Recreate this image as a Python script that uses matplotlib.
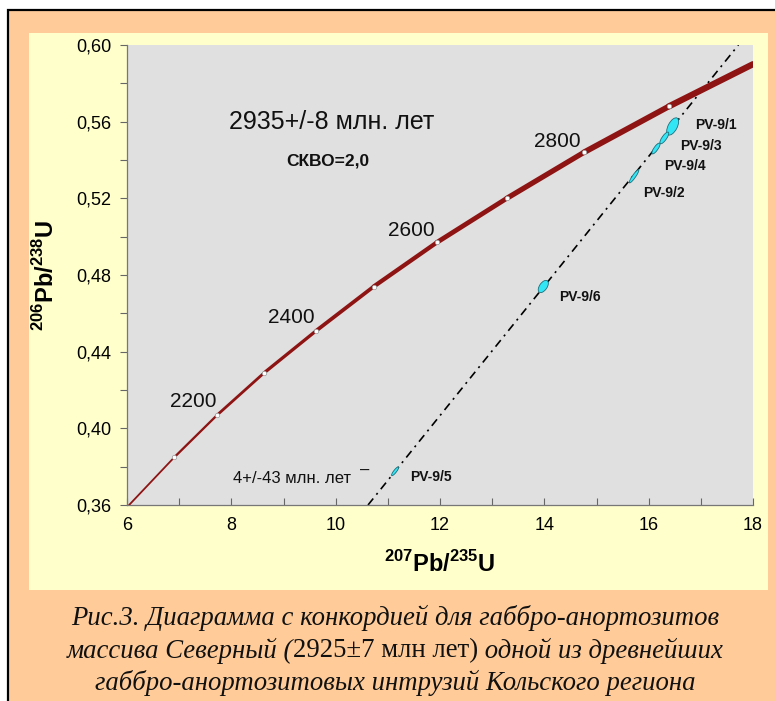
import numpy as np
import matplotlib
matplotlib.use('Agg')
import matplotlib.pyplot as plt
import matplotlib.transforms as mtransforms
from matplotlib.collections import LineCollection
from matplotlib.patches import Rectangle, Ellipse
from matplotlib.ticker import MultipleLocator, FuncFormatter

plt.rcParams['font.family'] = ['Liberation Sans', 'DejaVu Sans']
plt.rcParams['mathtext.fontset'] = 'custom'
plt.rcParams['mathtext.rm'] = 'Liberation Sans'
plt.rcParams['mathtext.bf'] = 'Liberation Sans:bold'

# concordia, points (ends + 100 Ma marks 2100..2900)
conc_x = [6.04, 6.91, 7.73, 8.63, 9.63, 10.73, 11.94, 13.28, 14.76, 16.39, 18.0]
conc_y = [0.360, 0.385, 0.407, 0.429, 0.451, 0.474, 0.497, 0.520, 0.544, 0.568, 0.590]
mark_ages = [2100, 2200, 2300, 2400, 2500, 2600, 2700, 2800, 2900]

age_labels = ['2200', '2400', '2600', '2800']
age_lab_x = [7.27, 9.15, 11.45, 14.25]
age_lab_y = [0.4138, 0.4576, 0.5030, 0.5494]

# discordia end points
disc_x = [10.62, 17.72]
disc_y = [0.360, 0.600]

# analyses
samples = ['PV-9/1', 'PV-9/3', 'PV-9/4', 'PV-9/2', 'PV-9/6', 'PV-9/5']
samp_x = [16.46, 16.30, 16.14, 15.72, 13.98, 11.14]
samp_y = [0.5575, 0.5515, 0.5460, 0.5315, 0.4740, 0.3776]
ell_len = [19, 14, 13, 16, 14, 11]     # px
ell_wid = [9, 4.5, 4, 3.2, 7.5, 2.8]
ell_ang = [62, 55, 55, 55, 55, 52]
samp_lab_x = [16.90, 16.60, 16.29, 15.90, 14.29, 11.43]
samp_lab_y = [0.5583, 0.5473, 0.5369, 0.5228, 0.4686, 0.3747]

W, H = 775, 701
fig = plt.figure(figsize=(W / 100, H / 100), dpi=100)
fig.patch.set_facecolor('white')

# frame and panel
fig.add_artist(Rectangle((8 / W, -0.05), 1.0, 1 - 10 / H + 0.05, transform=fig.transFigure,
                         facecolor='#FFCC99', edgecolor='black', lw=1.6, zorder=-2))
fig.add_artist(Rectangle((29 / W, 1 - 590 / H), 739 / W, 557 / H, transform=fig.transFigure,
                         facecolor='#FFFFCC', edgecolor='none', zorder=-1))

ax = fig.add_axes([127 / W, 1 - 505 / H, 626 / W, 460 / H])
ax.set_facecolor('#E0E0E0')
ax.set_xlim(6, 18)
ax.set_ylim(0.36, 0.60)

# concordia, band gets wider with age
pts = np.column_stack([conc_x, conc_y])
segs = np.stack([pts[:-1], pts[1:]], axis=1)
lc = LineCollection(segs, linewidths=np.linspace(1.3, 4.5, len(segs)),
                    colors='#8E1414', capstyle='round', zorder=3)
ax.add_collection(lc)
ax.plot(conc_x[1:-1], conc_y[1:-1], 'o', ms=3.2, mfc='white', mec='#999999',
        mew=0.5, zorder=4)
for lab, x, y in zip(age_labels, age_lab_x, age_lab_y):
    ax.text(x, y, lab, fontsize=15, ha='center', va='center', color='#111111')

# discordia
ax.plot(disc_x, disc_y, color='black', lw=1.2, dashes=[5, 3, 1.2, 3], zorder=2)

for i in range(len(samples)):
    tr = mtransforms.ScaledTranslation(samp_x[i], samp_y[i], ax.transData)
    e = Ellipse((0, 0), ell_len[i], ell_wid[i], angle=ell_ang[i], transform=tr,
                facecolor='#33E6F6', edgecolor='#1E6F7A', lw=0.6, zorder=5)
    ax.add_patch(e)
    ax.text(samp_lab_x[i], samp_lab_y[i], samples[i], fontsize=10, fontweight='bold',
            ha='left', va='center', color='#111111')

ax.text(9.92, 0.5598, '2935+/-8 млн. лет', fontsize=18, ha='center', va='center', color='#111111')
ax.text(9.84, 0.5395, 'СКВО=2,0', fontsize=12.5, fontweight='bold', ha='center', va='center', color='#111111')
ax.text(8.035, 0.3737, '4+/-43 млн. лет', fontsize=12, ha='left', va='center', color='#111111')
ax.text(10.55, 0.3782, '–', fontsize=12, ha='center', va='center', color='#111111')

ax.set_xlim(6, 18)
ax.set_ylim(0.36, 0.60)
ax.xaxis.set_major_locator(MultipleLocator(2))
ax.xaxis.set_minor_locator(MultipleLocator(1))
ax.yaxis.set_major_locator(MultipleLocator(0.04))
ax.yaxis.set_minor_locator(MultipleLocator(0.02))
ax.yaxis.set_major_formatter(FuncFormatter(lambda v, p: f'{v:.2f}'.replace('.', ',')))
ax.tick_params(axis='x', which='both', direction='in', length=5, width=0.8,
               color='#666666', pad=9, labelsize=13)
ax.tick_params(axis='y', which='both', direction='out', length=5, width=0.8,
               color='#666666', pad=6, labelsize=13)
for s in ['top', 'right']:
    ax.spines[s].set_visible(False)
for s in ['left', 'bottom']:
    ax.spines[s].set_color('#777777')
    ax.spines[s].set_linewidth(0.9)

ax.set_xlabel(r'$^{\mathbf{207}}$Pb/$^{\mathbf{235}}$U', fontsize=17, fontweight='bold')
ax.xaxis.set_label_coords(0.5, -0.100)
ax.set_ylabel(r'$^{\mathbf{206}}$Pb/$^{\mathbf{238}}$U', fontsize=17, fontweight='bold')
ax.yaxis.set_label_coords(-0.108, 0.5)

# caption
cap_font = dict(family=['Liberation Serif', 'DejaVu Serif'], fontsize=19.3, color='#111111')
cx = 395 / W
fig.text(cx, 1 - 618 / H, 'Рис.3. Диаграмма с конкордией для габбро-анортозитов',
         ha='center', va='center', style='italic', **cap_font)
fig.text(cx, 1 - 683 / H, 'габбро-анортозитовых интрузий Кольского региона',
         ha='center', va='center', style='italic', **cap_font)

parts = [('массива Северный (', 'italic'), ('2925±7 млн лет)', 'normal'),
         (' одной из древнейших', 'italic')]
renderer = fig.canvas.get_renderer()
objs = []
for txt, st in parts:
    t = fig.text(0, 1 - 651 / H, txt, ha='left', va='center', style=st, **cap_font)
    objs.append(t)
widths = [t.get_window_extent(renderer).width / W for t in objs]
x0 = cx - sum(widths) / 2
for t, w in zip(objs, widths):
    t.set_x(x0)
    x0 += w

fig.savefig('out.png', dpi=100, facecolor=fig.get_facecolor())
